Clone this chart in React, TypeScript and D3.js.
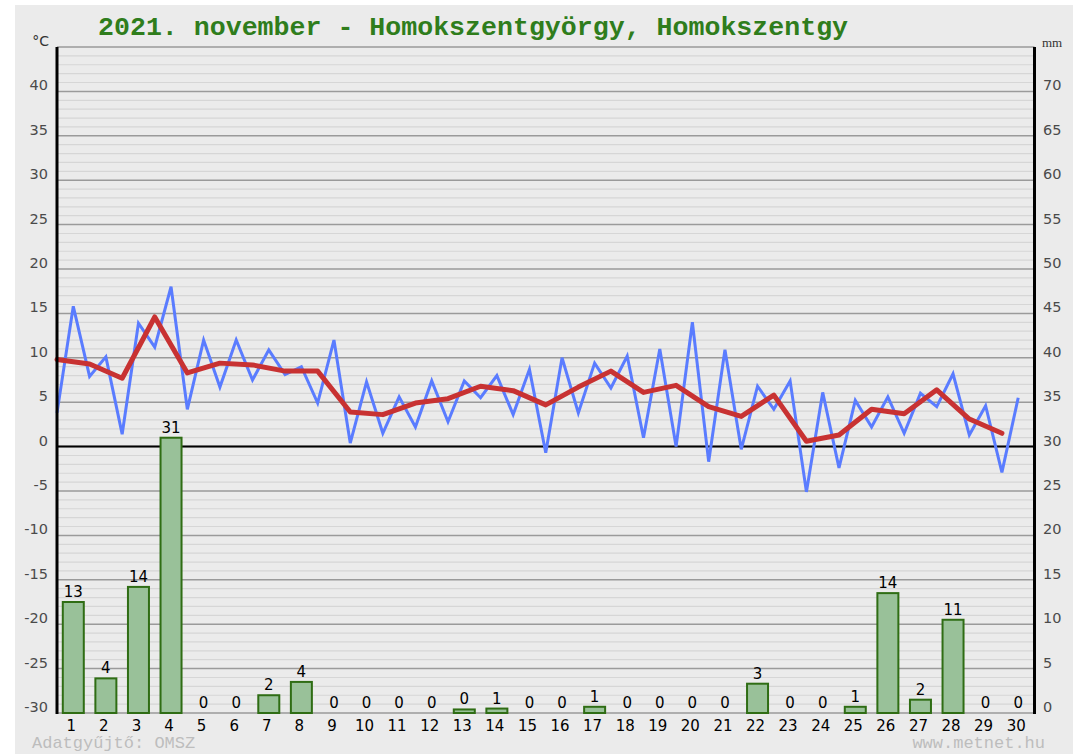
import React from "react";
import * as d3 from "d3";

const days = d3.range(1, 31);
const tMin = [3.8, 7.9, 1.4, 11.2, 4.2, 6.7, 7.5, 8.1, 4.9, 0.4, 1.5, 2.2, 2.8, 5.5, 3.6, -0.7, 3.8, 6.6, 1.0, 0.0, -1.7, -0.3, 4.2, -5.1, -2.4, 2.2, 1.5, 4.5, 1.3, -2.9];
const tMax = [15.8, 10.1, 13.9, 18.0, 12.0, 12.0, 10.9, 9.0, 12.0, 7.3, 5.6, 7.4, 7.4, 8.0, 8.7, 10.0, 9.4, 10.2, 11.0, 14.0, 10.9, 6.8, 7.4, 6.1, 5.2, 5.6, 6.0, 8.2, 4.6, 5.5];
const tMean = [9.8, 9.3, 7.7, 14.6, 8.3, 9.4, 9.2, 8.5, 8.5, 3.9, 3.6, 4.9, 5.4, 6.8, 6.3, 4.7, 6.7, 8.5, 6.1, 6.9, 4.5, 3.4, 5.8, 0.6, 1.3, 4.2, 3.7, 6.4, 3.1, 1.5];
const precip = [12.5, 3.9, 14.2, 31, 0, 0, 2.0, 3.5, 0, 0, 0, 0, 0.4, 0.5, 0, 0, 0.7, 0, 0, 0, 0, 3.3, 0, 0, 0.7, 13.5, 1.5, 10.5, 0, 0];
const tempTicks = d3.range(-30, 41, 5);
const mmTicks = d3.range(0, 71, 5);
const title = "2021. november - Homokszentgyörgy, Homokszentgy";

const X0 = 57, X1 = 1034.5, YTOP = 47, YBOT = 713;

export default function App() {
  const x = d3.scaleLinear().domain([0, 30]).range([X0, X1]);
  const y = d3.scaleLinear().domain([-30, 45]).range([YBOT, YTOP]);
  const yMm = d3.scaleLinear().domain([0, 75]).range([YBOT, YTOP]);

  const bluePts: [number, number][] = [];
  days.forEach((d, i) => {
    bluePts.push([x(i), y(tMin[i])]);
    bluePts.push([x(i + 0.5), y(tMax[i])]);
  });
  const redPts: [number, number][] = days.map((d, i) => [x(i), y(tMean[i])]);
  const line = d3.line();

  const grid = d3.range(-30, 46, 1);
  const barW = 21;
  const font = "'DejaVu Sans', Verdana, sans-serif";

  return (
    <svg width={1073} height={754} style={{ position: "absolute", left: 0, top: 0 }}>
      <rect x={0} y={0} width={1073} height={754} fill="#ffffff" />
      <rect x={15} y={5} width={1058} height={749} fill="#ebebeb" />
      {/* grid */}
      {grid.map((t) => (
        <line key={t} x1={X0} x2={X1} y1={y(t)} y2={y(t)}
          stroke={t % 5 === 0 ? "#9a9a9a" : "#d6d6d6"}
          strokeWidth={t % 5 === 0 ? 1.5 : 1.2} />
      ))}
      <line x1={X0} x2={X1} y1={y(0)} y2={y(0)} stroke="#000" strokeWidth={2} />
      {/* bars */}
      {days.map((d, i) => {
        const cx = x(i + 0.5);
        const h = yMm(0) - yMm(precip[i]);
        return (
          <g key={d}>
            <rect x={cx - barW / 2} y={yMm(precip[i])} width={barW} height={h}
              fill="#99c199" stroke="#2f6d14" strokeWidth={2} />
            <text x={cx} y={yMm(precip[i]) - 5} textAnchor="middle" fontFamily={font}
              fontSize={15} fill="#000">{Math.round(precip[i])}</text>
            <text x={cx - 2} y={731} textAnchor="middle" fontFamily={font}
              fontSize={15} fill="#000">{d}</text>
          </g>
        );
      })}
      {/* lines */}
      <path d={line(bluePts) || ""} fill="none" stroke="#5a7cff" strokeWidth={3} strokeLinejoin="miter" />
      <path d={line(redPts) || ""} fill="none" stroke="#c83232" strokeWidth={5} strokeLinejoin="round" strokeLinecap="round" />
      {/* axes */}
      <line x1={X0} x2={X0} y1={YTOP} y2={YBOT + 1} stroke="#000" strokeWidth={3} />
      <line x1={X1} x2={X1} y1={YTOP} y2={YBOT + 1} stroke="#000" strokeWidth={3} />
      {tempTicks.map((t) => (
        <text key={t} x={48} y={y(t) - 1} textAnchor="end" fontFamily={font} fontSize={14.5} fill="#4a4a4a">{t}</text>
      ))}
      {mmTicks.map((m) => (
        <text key={m} x={1043} y={yMm(m) - 1} textAnchor="start" fontFamily={font} fontSize={14.5} fill="#4a4a4a">{m}</text>
      ))}
      <text x={49} y={46} textAnchor="end" fontFamily={font} fontSize={14} fill="#333">°C</text>
      <text x={1042} y={47} textAnchor="start" fontFamily="'Liberation Serif', serif" fontSize={13} fill="#333">mm</text>
      {/* title */}
      <text x={98} y={35} fontFamily="'Liberation Mono', 'Courier New', monospace" fontWeight="bold"
        fontSize={26.6} fill="#2f7d1c">{title}</text>
      <text x={32} y={748} fontFamily="'Liberation Mono', monospace" fontSize={17} fill="#bdbdbd">Adatgyűjtő: OMSZ</text>
      <text x={1045} y={748} textAnchor="end" fontFamily="'Liberation Mono', monospace" fontSize={17} fill="#bdbdbd">www.metnet.hu</text>
    </svg>
  );
}
